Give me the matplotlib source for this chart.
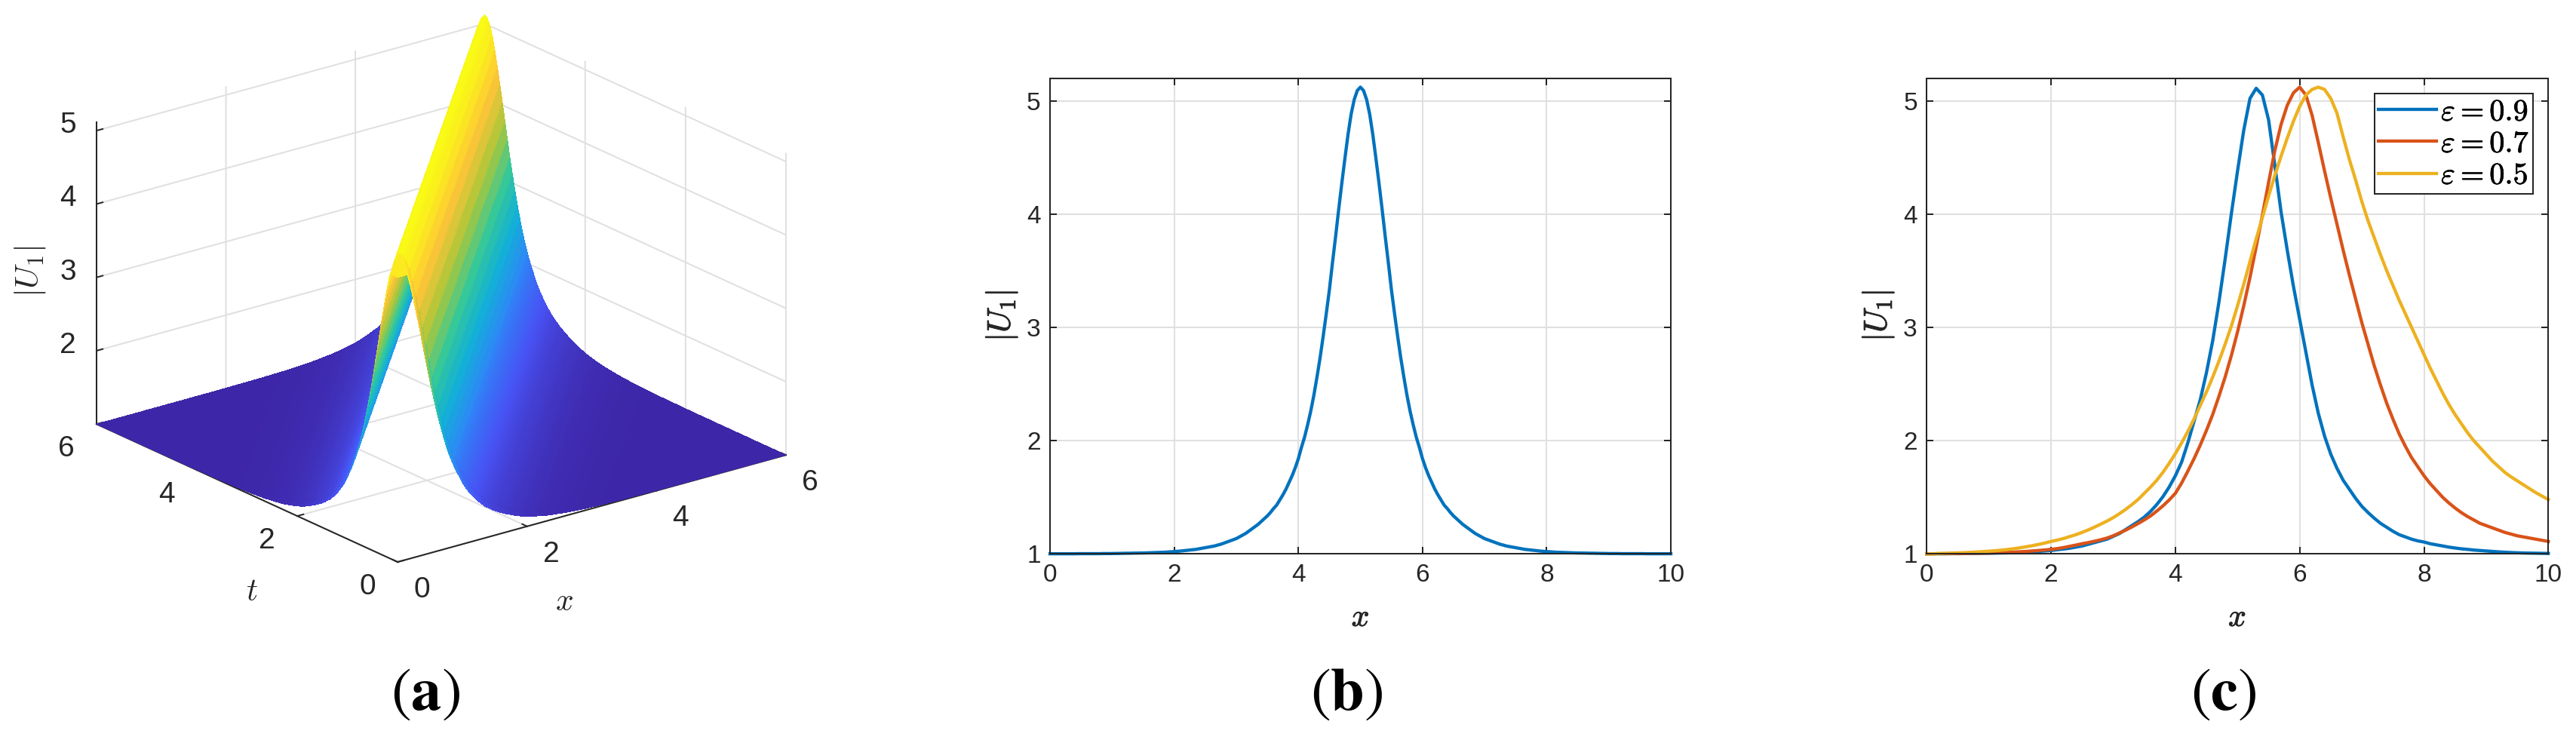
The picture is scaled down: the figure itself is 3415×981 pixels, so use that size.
import numpy as np
import matplotlib
matplotlib.use("Agg")
import matplotlib.pyplot as plt
import matplotlib.patheffects as pe
from matplotlib.colors import LinearSegmentedColormap
from mpl_toolkits.mplot3d import proj3d

# ---------- data ----------
x_ticks_3d = [0, 2, 4, 6]
t_ticks_3d = [0, 2, 4, 6]
z_ticks_3d = [2, 3, 4, 5]

# |U1| against the distance from the crest, 0.05 per entry (panels a and b)
crest_profile = [
 5.12,5.09,5.01,4.88,4.70,4.49,4.27,4.04,3.80,3.57,3.33,3.12,2.92,2.73,2.56,2.40,2.26,2.14,2.03,1.94,
 1.84,1.76,1.69,1.63,1.57,1.52,1.475,1.43,1.40,1.365,1.335,1.31,1.285,1.26,1.24,1.22,1.20,1.18,1.165,1.15,
 1.135,1.125,1.115,1.105,1.095,1.085,1.078,1.07,1.065,1.06,1.055,1.05,1.045,1.04,1.037,1.034,1.031,1.028,1.025,1.023,
 1.021,1.019,1.017,1.015,1.014,1.013,1.012,1.011,1.010,1.009,1.008,1.008,1.007,1.007,1.006,1.006,1.005,1.005,1.004,1.004,
 1.003,1.003,1.003,1.003,1.002,1.002,1.002,1.002,1.002,1.002,1.002,1.002,1.001,1.001,1.001,1.001,1.001,1.001,1.001,1.001,
 1.001,1.001,1.001,1.001,1.001,1.001,1.0,1.0,1.0,1.0,1.0,1.0,1.0,1.0,1.0,1.0,1.0,1.0,1.0,1.0,1.0]
grid_steps = [0] + list(range(3, 121))      # grid nodes, in units of 0.05

x_line = np.arange(101) / 10
u_09 = [
 1.0,1.001,1.001,1.001,1.002,1.002,1.003,1.003,1.004,1.005,1.006,1.007,1.008,1.009,1.011,1.013,1.016,1.019,1.022,1.026,
 1.03,1.037,1.043,1.05,1.06,1.07,1.085,1.10,1.115,1.13,1.155,1.18,1.215,1.25,1.285,1.325,1.375,1.435,1.505,1.59,
 1.69,1.81,1.98,2.17,2.36,2.60,2.88,3.22,3.60,4.00,4.38,4.74,5.02,5.11,5.05,4.83,4.43,4.02,3.68,3.36,
 3.07,2.78,2.49,2.24,2.04,1.88,1.755,1.65,1.57,1.49,1.42,1.365,1.315,1.27,1.235,1.20,1.17,1.15,1.13,1.115,
 1.105,1.09,1.08,1.07,1.06,1.052,1.045,1.04,1.034,1.03,1.026,1.022,1.018,1.015,1.012,1.01,1.008,1.007,1.006,1.005,1.004]
u_07 = [
 1.0,1.001,1.002,1.002,1.003,1.003,1.004,1.005,1.006,1.006,1.007,1.009,1.011,1.013,1.016,1.019,1.022,1.026,1.03,1.035,
 1.04,1.047,1.056,1.067,1.078,1.09,1.10,1.112,1.125,1.14,1.16,1.185,1.21,1.238,1.268,1.30,1.335,1.378,1.424,1.476,
 1.535,1.625,1.73,1.84,1.96,2.09,2.23,2.39,2.56,2.75,2.96,3.19,3.44,3.71,3.99,4.28,4.56,4.79,4.96,5.07,
 5.12,5.05,4.87,4.63,4.38,4.14,3.91,3.68,3.46,3.25,3.04,2.85,2.66,2.49,2.33,2.19,2.06,1.95,1.85,1.77,
 1.69,1.62,1.56,1.50,1.45,1.405,1.365,1.33,1.30,1.27,1.25,1.23,1.21,1.19,1.175,1.16,1.15,1.14,1.13,1.12,1.11]
u_05 = [
 1.0,1.001,1.003,1.005,1.007,1.009,1.011,1.014,1.017,1.02,1.024,1.028,1.033,1.039,1.046,1.054,1.063,1.073,1.084,1.096,
 1.11,1.122,1.136,1.153,1.17,1.19,1.212,1.237,1.263,1.29,1.32,1.355,1.393,1.435,1.48,1.535,1.59,1.65,1.72,1.80,
 1.885,1.98,2.08,2.19,2.31,2.43,2.56,2.70,2.85,3.01,3.19,3.38,3.58,3.78,3.97,4.16,4.34,4.51,4.67,4.82,
 4.95,5.05,5.10,5.12,5.10,5.02,4.89,4.68,4.48,4.30,4.11,3.94,3.79,3.64,3.50,3.37,3.24,3.12,3.00,2.88,
 2.76,2.64,2.53,2.42,2.32,2.23,2.15,2.07,2.00,1.94,1.88,1.82,1.77,1.72,1.68,1.645,1.61,1.575,1.54,1.51,1.48]
legend_labels = [r"$\varepsilon=0.9$", r"$\varepsilon=0.7$", r"$\varepsilon=0.5$"]
line_ticks_x = [0, 2, 4, 6, 8, 10]
line_ticks_y = [1, 2, 3, 4, 5]

# ---------- style ----------
W, H = 3415, 981
DARK = "#262626"
plt.rcParams.update({
    "font.family": ["Liberation Sans", "DejaVu Sans"],
    "mathtext.fontset": "cm",
    "axes.edgecolor": DARK,
    "axes.linewidth": 1.45,
    "grid.color": "#e0e0e0",
    "grid.linewidth": 1.45,
    "xtick.color": DARK, "ytick.color": DARK,
    "axes3d.xaxis.panecolor": (1, 1, 1, 0),
    "axes3d.yaxis.panecolor": (1, 1, 1, 0),
    "axes3d.zaxis.panecolor": (1, 1, 1, 0),
})
parula = LinearSegmentedColormap.from_list("parula", [
    (0.2422, 0.1504, 0.6603), (0.2810, 0.3228, 0.9579), (0.1786, 0.5289, 0.9682),
    (0.0689, 0.6948, 0.8394), (0.2161, 0.7843, 0.5923), (0.6720, 0.7793, 0.2227),
    (0.9970, 0.7659, 0.2199), (0.9769, 0.9839, 0.0805)])
BOLDER = [pe.withStroke(linewidth=0.7, foreground=DARK)]

fig = plt.figure(figsize=(W / 100, H / 100), dpi=100)
def fx(p): return p / W
def fy(p): return 1 - p / H

# ---------- panel a ----------
S0 = 1000.0
ax3 = fig.add_axes([0, 0, S0 / W, S0 / H], projection="3d")
ax3.set_proj_type("ortho")
ax3.view_init(elev=20.8, azim=-127.8)
ax3.set_box_aspect((652, 652, 429))
ax3.patch.set_alpha(0)
steps = np.array(grid_steps)
X, T = np.meshgrid(steps * 0.05, steps * 0.05)
profile = np.array(crest_profile)
Z = profile[np.abs(steps[None, :] - steps[:, None])]
Z[0, 0] = crest_profile[3]      # the front corner sits level with its two neighbours
ax3.plot_surface(X, T, Z, rstride=1, cstride=1, cmap=parula, vmin=1, vmax=5.12,
                 shade=False, linewidth=0, antialiased=False)
ax3.set_xlim(0, 6, view_margin=0)
ax3.set_ylim(0, 6, view_margin=0)
ax3.set_zlim(1, 5.12, view_margin=0)
ax3.set_xticks(x_ticks_3d); ax3.set_yticks(t_ticks_3d); ax3.set_zticks(z_ticks_3d)
ax3.set_xticklabels([""] * 4); ax3.set_yticklabels([""] * 4); ax3.set_zticklabels([""] * 4)
for a in (ax3.xaxis, ax3.yaxis, ax3.zaxis):
    a.pane.set_edgecolor("none")
    a._axinfo["tick"].update(inward_factor=0.0, outward_factor=0.2,
                             linewidth={True: 1.4, False: 0.5})

# place the box on the reference's pixels
targets = [((0, 6, 1), (128, 562)), ((6, 0, 1), (1042, 604)),
           ((0, 0, 1), (527, 745)), ((0, 6, 5.12), (128, 161))]
S, L, B = S0, 0.0, 0.0
tar = np.array([(a, H - b) for _p, (a, b) in targets], float)
def to_display(p):
    px, py, _z = proj3d.proj_transform(*p, ax3.get_proj())
    return ax3.transData.transform((px, py))
def project():
    ax3.set_position([L / W, B / H, S / W, S / H])
    ax3.apply_aspect()
    return np.array([to_display(p) for p, _t in targets])
for _ in range(4):
    cur = project()
    S *= (tar[1, 0] - tar[0, 0]) / (cur[1, 0] - cur[0, 0])
    cur = project()
    d = (tar - cur).mean(axis=0)
    L += d[0]; B += d[1]
project()

# 3D tick labels: a fixed pixel offset from each tick
def tick_label(point, text, dx, dy):
    px_, py_ = to_display(point)
    fig.text((px_ + dx) / W, (py_ - dy) / H, text, fontsize=28, color=DARK,
             ha="center", va="center")
for v in x_ticks_3d:
    tick_label((v, 0, 1), str(v), 32, 37)
for v in t_ticks_3d:
    tick_label((0, v, 1), str(v), -40, 33)
for v in z_ticks_3d:
    tick_label((0, 6, v), str(v), -38, -7)

fig.text(fx(40), fy(360), r"$|U_1|$", fontsize=31, rotation=90, ha="center", va="center", color=DARK)
fig.text(fx(334), fy(785), r"$t$", fontsize=30, ha="center", va="center", color=DARK)
fig.text(fx(748), fy(798), r"$x$", fontsize=30, ha="center", va="center", color=DARK)

# ---------- panels b, c ----------
def line_axes(left, right, xl_c, yl_x):
    ax = fig.add_axes([fx(left), fy(734.3), (right - left) / W, (734.3 - 103.5) / H])
    ax.set_xlim(0, 10); ax.set_ylim(1, 5.2)
    ax.set_xticks(line_ticks_x); ax.set_yticks(line_ticks_y)
    ax.grid(True); ax.set_axisbelow(True)
    ax.tick_params(direction="in", top=True, right=True, length=6.5, width=1.45,
                   labelsize=24, pad=9)
    ax.set_xlabel(r"$x$", fontsize=30, color=DARK, path_effects=BOLDER)
    ax.set_ylabel(r"$|U_1|$", fontsize=31, color=DARK, path_effects=BOLDER)
    ax.xaxis.set_label_coords((xl_c - left) / (right - left), -(819 - 734.3) / (734.3 - 103.5))
    ax.xaxis.label.set_va("center")
    ax.yaxis.set_label_coords((yl_x - left) / (right - left), 0.5)
    ax.yaxis.label.set_va("center")
    return ax

axb = line_axes(1392, 2215, 1803.6, 1328)
half = np.arange(101) * 0.05
axb.plot(np.r_[5 - half[::-1], 5 + half[1:]],
         np.r_[crest_profile[:101][::-1], crest_profile[1:101]],
         color="#0072BD", lw=3.1, clip_on=False)

axc = line_axes(2554.3, 3378.3, 2966, 2490)
for vals, col, lab in zip((u_09, u_07, u_05), ("#0072BD", "#D95319", "#EDB120"), legend_labels):
    axc.plot(x_line, vals, color=col, lw=3.1, label=lab, clip_on=False)
leg = axc.legend(loc="upper right", bbox_to_anchor=(0.9757, 0.967), borderaxespad=0,
                 fontsize=29, fancybox=False, framealpha=1, edgecolor=DARK,
                 handlelength=1.91, handletextpad=0.15, borderpad=0.13, labelspacing=0.1)
leg.get_frame().set_linewidth(1.45)
for t in leg.get_texts():
    t.set_color("black")
    t.set_path_effects([pe.withStroke(linewidth=0.5, foreground="black")])

# ---------- captions ----------
for cx, s in ((564, r"$(\mathbf{a})$"), (1785, r"$(\mathbf{b})$"), (2948, r"$(\mathbf{c})$")):
    fig.text(fx(cx), fy(920), s, fontsize=58, ha="center", va="center",
             color="black", math_fontfamily="stix")

fig.savefig("out.png", dpi=100)
